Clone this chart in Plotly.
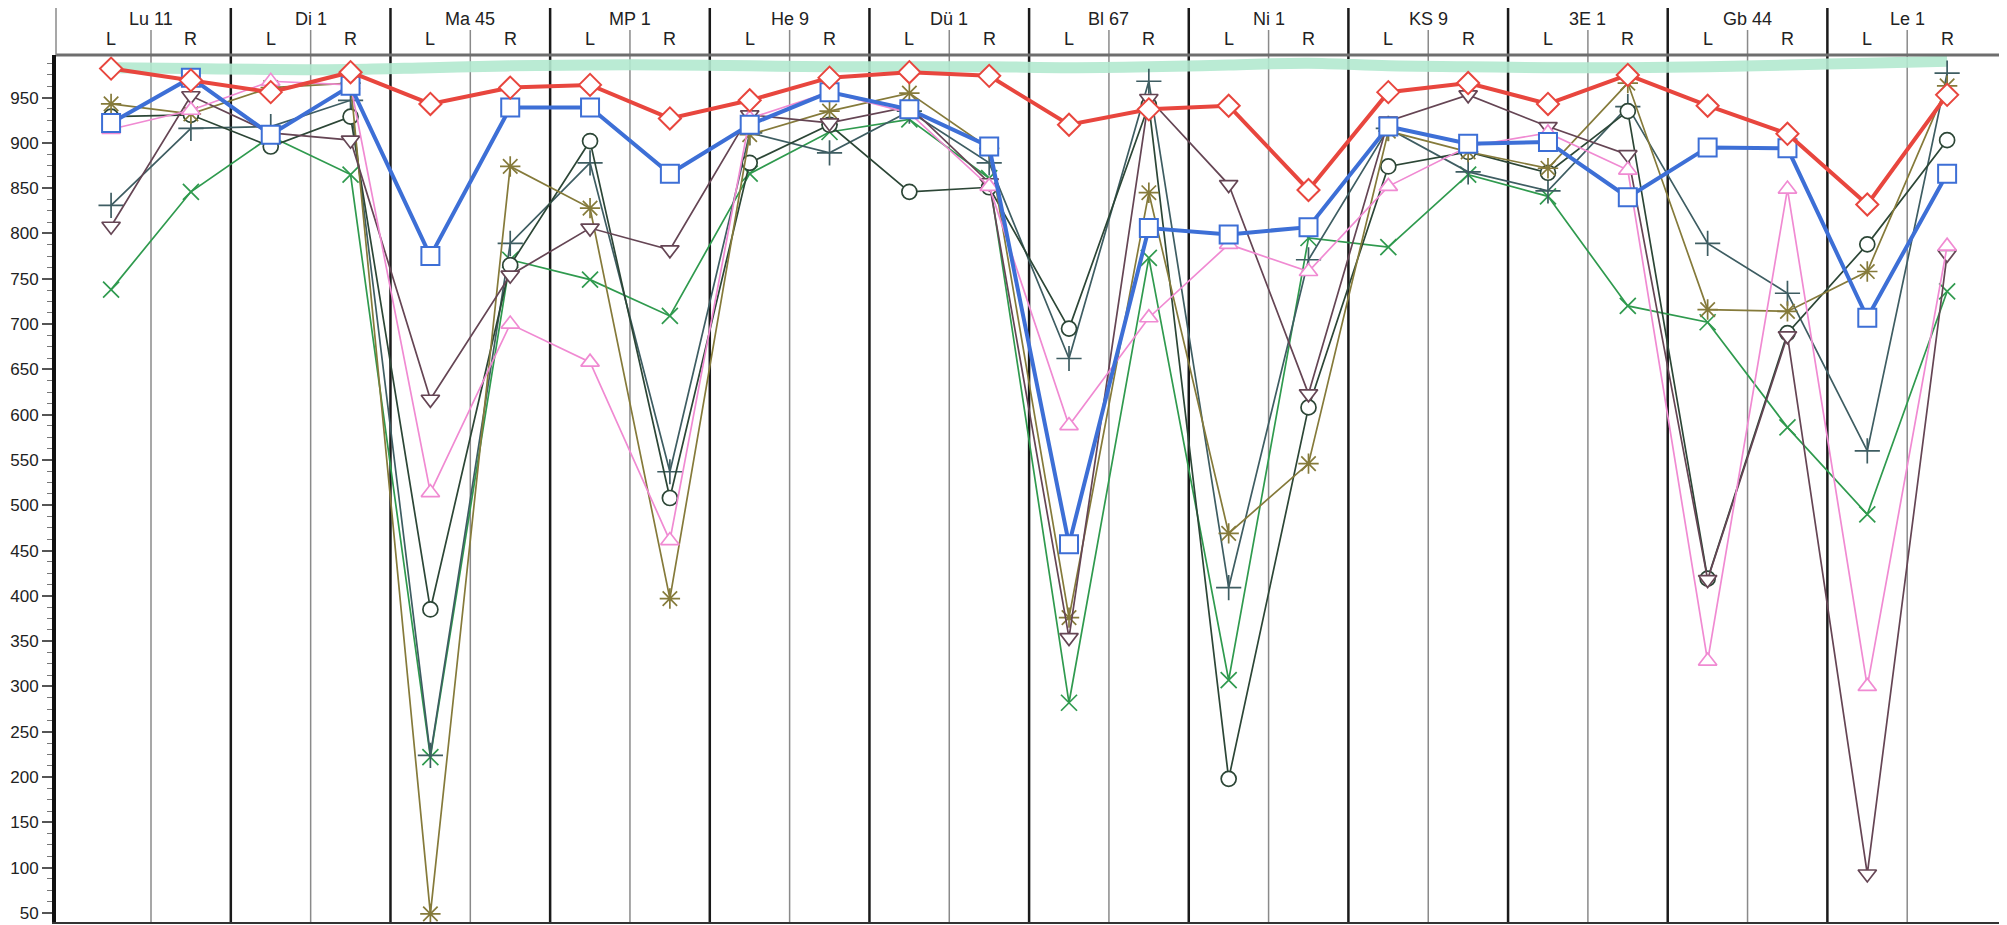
import plotly.graph_objects as go

groups = ["Lu 11", "Di 1", "Ma 45", "MP 1", "He 9", "Dü 1", "Bl 67", "Ni 1", "KS 9", "3E 1", "Gb 44", "Le 1"]
sides = ["L", "R"]
y_ticks = list(range(50, 1000, 50))

band = [983, 982, 981, 981, 983, 985, 986, 986, 985, 984, 984, 984, 983, 984, 986, 988, 985, 984, 983, 983, 984, 986, 988, 990]
red = [982, 969, 956, 978, 943, 961, 964, 927, 947, 972, 978, 974, 920, 937, 941, 848, 956, 966, 943, 975, 941, 910, 832, 953]
blue = [922, 972, 909, 963, 775, 939, 939, 866, 920, 956, 937, 896, 457, 806, 799, 807, 918, 899, 901, 840, 895, 894, 707, 866]
green_x = [738, 846, 907, 865, 222, 771, 749, 709, 866, 912, 926, 861, 282, 773, 307, 795, 785, 865, 841, 720, 702, 586, 490, 736]
slate_plus = [831, 916, 918, 947, 224, 789, 878, 537, 911, 889, 935, 878, 662, 968, 409, 771, 916, 868, 847, 940, 789, 734, 560, 977]
dark_circle = [929, 931, 896, 929, 385, 765, 902, 508, 878, 920, 846, 851, 695, 942, 198, 608, 874, 890, 867, 935, 419, 690, 788, 903]
olive_star = [943, 932, 961, 966, 49, 874, 828, 397, 909, 935, 955, 894, 376, 845, 469, 546, 913, 890, 872, 966, 716, 714, 758, 963]
purple_tri = [808, 952, 911, 903, 617, 754, 806, 782, 931, 922, 940, 856, 354, 949, 854, 623, 924, 953, 918, 887, 418, 687, 93, 777]
pink_tri = [915, 936, 968, 964, 514, 700, 658, 461, 927, 956, 933, 852, 588, 707, 788, 758, 852, 896, 911, 870, 328, 849, 300, 786]

labels = [f"{g} {s}" for g in groups for s in sides]
xs = list(range(len(labels)))

fig = go.Figure()

fig.add_trace(go.Scatter(x=xs, y=band, mode="lines", line=dict(color="#b3e9d0", width=11, shape="spline"),
                         opacity=0.9, hoverinfo="skip", showlegend=False))

thin = [
    (green_x, "#2f9a4e", "x-thin-open", 16),
    (slate_plus, "#3e5d62", "cross-thin-open", 18),
    (dark_circle, "#2c4636", "circle", 15),
    (olive_star, "#857a3a", "asterisk-open", 17),
    (purple_tri, "#654554", "triangle-down", 16),
    (pink_tri, "#f08ad2", "triangle-up", 16),
]
for vals, col, sym, sz in thin:
    fig.add_trace(go.Scatter(
        x=xs, y=vals, mode="lines+markers", text=labels,
        line=dict(color=col, width=1.7),
        marker=dict(symbol=sym, size=sz, color="white" if "open" not in sym else col,
                    line=dict(color=col, width=1.7)),
        showlegend=False))

fig.add_trace(go.Scatter(
    x=xs, y=blue, mode="lines+markers", text=labels,
    line=dict(color="#3d6fd6", width=4),
    marker=dict(symbol="square", size=18, color="white", line=dict(color="#3d6fd6", width=2)),
    showlegend=False))
fig.add_trace(go.Scatter(
    x=xs, y=red, mode="lines+markers", text=labels,
    line=dict(color="#e8463e", width=4),
    marker=dict(symbol="diamond", size=17, color="white", line=dict(color="#e8463e", width=2)),
    showlegend=False))

shapes = []
H_TOP = 1.0553
H_MID = 1.0288
for k in range(1, len(groups)):
    xv = 2 * k - 0.5
    shapes.append(dict(type="line", xref="x", yref="paper", x0=xv, x1=xv, y0=0, y1=H_TOP,
                       line=dict(color="#1a1a1a", width=2.5), layer="below"))
for k in range(len(groups)):
    xv = 2 * k + 0.5
    shapes.append(dict(type="line", xref="x", yref="paper", x0=xv, x1=xv, y0=0, y1=H_MID,
                       line=dict(color="#8a8a8a", width=1.5), layer="below"))
shapes.append(dict(type="line", xref="paper", yref="paper", x0=0, x1=1, y0=H_TOP, y1=H_TOP,
                   line=dict(color="#8a8a8a", width=1.5)))
shapes.append(dict(type="line", xref="paper", yref="paper", x0=0, x1=1, y0=1, y1=1,
                   line=dict(color="#6e6e6e", width=3)))
shapes.append(dict(type="line", xref="paper", yref="paper", x0=0, x1=0, y0=1, y1=H_TOP,
                   line=dict(color="#8a8a8a", width=1.5)))
shapes.append(dict(type="line", xref="paper", yref="paper", x0=1, x1=1, y0=0, y1=H_TOP,
                   line=dict(color="#333333", width=1.5)))

annotations = []
for g, name in enumerate(groups):
    annotations.append(dict(x=2 * g + 0.5, y=1.0415, xref="x", yref="paper", text=name,
                            showarrow=False, font=dict(size=18, color="#222"), yanchor="middle"))
    for s, sd in enumerate(sides):
        annotations.append(dict(x=2 * g + s, y=1.0190, xref="x", yref="paper", text=sd,
                                showarrow=False, font=dict(size=18, color="#222"), yanchor="middle"))

# the page body keeps its default 8px margin, so the figure is sized to fit inside it
fig.update_layout(
    width=1999, height=917,
    margin=dict(l=46, r=4, t=47, b=2),
    paper_bgcolor="white", plot_bgcolor="white",
    font=dict(family="Liberation Sans, Arial, sans-serif", color="#222"),
    shapes=shapes, annotations=annotations,
    xaxis=dict(range=[-0.69, 23.70], showticklabels=False, showgrid=False, zeroline=False,
               showline=True, linecolor="#333", linewidth=2, ticks=""),
    yaxis=dict(range=[40, 997], tickvals=y_ticks, showgrid=False, zeroline=False,
               showline=True, linecolor="#111", linewidth=4,
               ticks="outside", ticklen=10, tickwidth=1.5, tickcolor="#555",
               tickfont=dict(size=17, color="#222"),
               minor=dict(dtick=12.5, tick0=0, ticks="outside", ticklen=5, tickwidth=1, tickcolor="#777")),
)

fig.write_html("out.html")
